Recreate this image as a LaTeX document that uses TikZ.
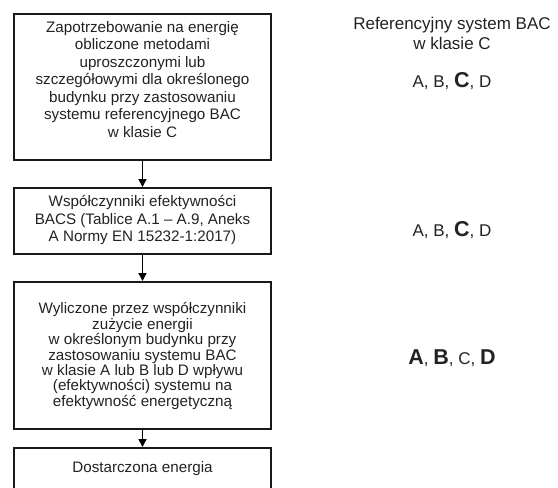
\documentclass[tikz,border=0pt]{standalone}
\usepackage{fontspec}
\setmainfont{Liberation Sans}
\usetikzlibrary{arrows.meta}
\definecolor{txt}{HTML}{222222}
\newcommand{\bigb}[1]{{\fontsize{21.5}{21.5}\selectfont\bfseries #1}}
\begin{document}
\begin{tikzpicture}[x=1pt,y=-1pt,
 box/.style={draw=black!90, line width=1.7pt, minimum width=257pt, inner sep=0pt, anchor=north},
 btxt/.style={text=txt, font=\fontsize{15.2}{17.5}\selectfont, align=center, inner sep=0pt},
 btxtb/.style={text=txt, font=\fontsize{15.2}{15.4}\selectfont, align=center, inner sep=0pt},
 rtxt/.style={text=txt, font=\fontsize{17}{20}\selectfont, align=center, inner sep=0pt},
 arr/.style={draw=black, line width=1.7pt, -{Triangle[length=8pt,width=8pt]}}]
\useasboundingbox (0,0) rectangle (558,488);
\clip (0,0) rectangle (558,488);
\node[box, minimum height=146pt] (b1) at (142.5,13) {};
\node[btxt, anchor=north] (t1) at (142.5,21) {Zapotrzebowanie na energię\\obliczone metodami\\uproszczonymi lub\\szczegółowymi dla określonego\\budynku przy zastosowaniu\\systemu referencyjnego BAC\\w klasie C};
\node[box, minimum height=66pt] (b2) at (142.5,187) {};
\node[btxt] (t2) at (142.5,220) {Współczynniki efektywności\\BACS (Tablice A.1 – A.9, Aneks\\A Normy EN 15232-1:2017)};
\node[box, minimum height=147pt] (b3) at (142.5,281) {};
\node[btxtb] (t3) at (142.5,356) {Wyliczone przez współczynniki\\zużycie energii\\w określonym budynku przy\\zastosowaniu systemu BAC\\w klasie A lub B lub D wpływu\\(efektywności) systemu na\\efektywność energetyczną};
\node[box, minimum height=60pt] (b4) at (142.5,447) {};
\node[btxt] (t4) at (142.5,469) {Dostarczona energia};
\draw[arr] (b1.south) -- (b2.north);
\draw[arr] (b2.south) -- (b3.north);
\draw[arr] (b3.south) -- (b4.north);
\node[rtxt] (r1) at (452,33) {Referencyjny system BAC\\w klasie C};
\node[rtxt] (r2) at (452,81) {A, B, \bigb{C}, D};
\node[rtxt] (r3) at (452,230) {A, B, \bigb{C}, D};
\node[rtxt] (r4) at (452,358) {\bigb{A}, \bigb{B}, C, \bigb{D}};
\end{tikzpicture}
\end{document}
